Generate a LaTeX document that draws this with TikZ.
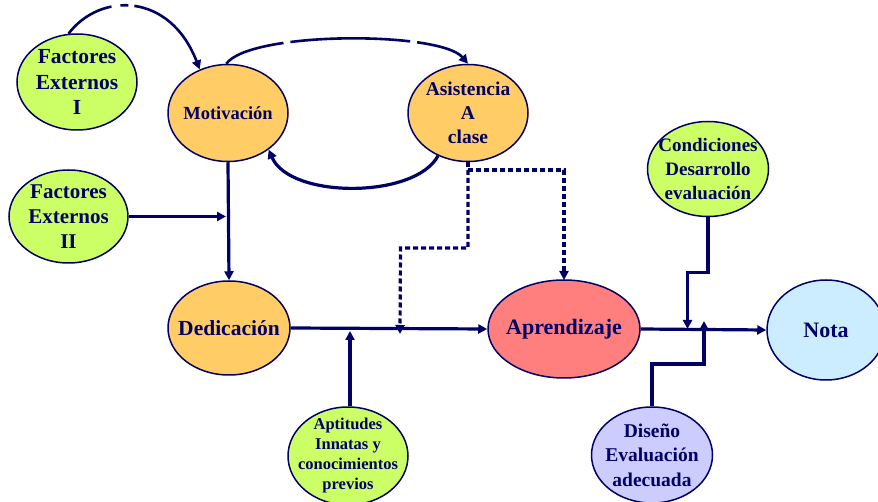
\documentclass[tikz,border=0pt]{standalone}
\usepackage{fontspec}
\setmainfont{Liberation Serif}
\usetikzlibrary{shapes.geometric,arrows.meta}
\definecolor{linec}{HTML}{000066}
\definecolor{txtc}{HTML}{000066}
\definecolor{greenf}{HTML}{CCFF66}
\definecolor{orangef}{HTML}{FFCC66}
\definecolor{redf}{HTML}{FF7F7F}
\definecolor{bluef}{HTML}{CCECFF}
\definecolor{lilacf}{HTML}{CCCCFF}
\newcommand{\fs}[2]{\fontsize{#1}{#2}\selectfont\bfseries}
\tikzset{
  ell/.style={ellipse, draw=linec, line width=1.5pt, inner sep=-30pt, align=center, text=txtc},
  conn/.style={draw=linec, line width=3.2pt, -{Triangle[length=9pt,width=9pt]}},
  thinconn/.style={draw=linec, line width=2.6pt, -{Triangle[length=9pt,width=9pt]}},
  dotline/.style={draw=linec, line width=3.2pt, dash pattern=on 5pt off 3pt},
}
\begin{document}
\begin{tikzpicture}[x=1pt,y=-1pt]
\useasboundingbox (0,0) rectangle (878,502);

% nodes
\node[ell, fill=greenf, minimum width=120pt, minimum height=96pt, font=\fs{21.5}{25.5}] (fe1) at (77,82) {Factores\\Externos\\I};
\node[ell, fill=greenf, minimum width=119pt, minimum height=93pt, font=\fs{21}{25}] (fe2) at (68.5,216.5) {Factores\\Externos\\II};
\node[ell, fill=orangef, minimum width=120pt, minimum height=97pt, font=\fs{18.5}{22}] (mot) at (228,113) {Motivación};
\node[ell, fill=orangef, minimum width=120pt, minimum height=97pt, font=\fs{19.5}{24}] (asi) at (468,113) {Asistencia\\A\\clase};
\node[ell, fill=orangef, minimum width=122pt, minimum height=94pt, font=\fs{21.5}{25}] (ded) at (229,328) {Dedicación};
\node[ell, fill=redf, minimum width=152pt, minimum height=98pt, font=\fs{22}{26}] (apr) at (564,329) {Aprendizaje};
\node[ell, fill=bluef, minimum width=118pt, minimum height=100pt, font=\fs{22}{26}] (nota) at (826,330) {Nota};
\node[ell, fill=greenf, minimum width=121pt, minimum height=95pt, font=\fs{19}{24}] (cond) at (708,169) {Condiciones\\Desarrollo\\evaluación};
\node[ell, fill=greenf, minimum width=120pt, minimum height=98pt, font=\fs{16.5}{20}] (apt) at (348,456) {Aptitudes\\Innatas y\\conocimientos\\previos};
\node[ell, fill=lilacf, minimum width=121pt, minimum height=96pt, font=\fs{19.5}{24.5}] (dis) at (652,455) {Diseño\\Evaluación\\adecuada};

% junction points on the main lines
\coordinate (jfe2) at (226,216.5);
\coordinate (japt) at (350,331);
\coordinate (jdot) at (400,334);
\coordinate (jcond) at (687.5,329);
\coordinate (jdis) at (704,321);
\coordinate (split) at (468,170);

% curved links between the upper nodes
\draw[thinconn, dash pattern=on 52pt off 9pt on 8pt off 6pt on 400pt] (fe1.100) .. controls (100,-8) and (170,-8) .. (mot.123);
\draw[thinconn, dash pattern=on 62pt off 7pt on 120pt off 7pt on 400pt] (mot.92) .. controls (250,31) and (440,31) .. (asi.north);
\draw[conn] (asi.235) .. controls (415,199) and (290,199) .. (mot.-42);

% straight links
\draw[conn] (mot.south) -- (ded.north);
\draw[conn] (fe2.east) -- (jfe2);
\draw[conn] (ded.east) -- (apr.west);
\draw[conn] (apt.north -| japt) -- (japt);
\draw[conn] (apr.east) -- (nota.west);

% dotted links from attendance
\draw[dotline] (asi.south) -- (split);
\draw[dotline, -{Triangle[length=9pt,width=9pt]}] (split) -- (564,170) -- (564,280);
\draw[dotline, -{Triangle[length=9pt,width=9pt]}] (split) -- (468,248) -- (400.5,248) -- (jdot);

% elbow links into the grade line
\draw[conn] (cond.south) -- (708,272.5) -- (687.5,272.5) -- (jcond);
\draw[conn] (dis.north) -- (652,364) -- (704,364) -- (jdis);
\end{tikzpicture}
\end{document}
